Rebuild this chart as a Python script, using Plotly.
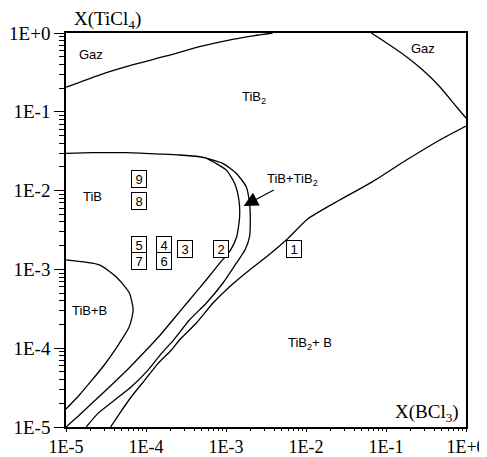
import numpy as np
import plotly.graph_objects as go

# ---- data (x = X(BCl3), y = X(TiCl4)) ----
gaz_left_x = [1e-5, 2.61e-5, 6.76e-5, 1.80e-4, 4.66e-4, 1.21e-3, 2.27e-3, 3.82e-3]
gaz_left_y = [0.205, 0.293, 0.393, 0.511, 0.670, 0.832, 0.929, 1.0]

gaz_right_x = [0.0656, 0.111, 0.180, 0.288, 0.470, 0.760, 1.0]
gaz_right_y = [1.0, 0.704, 0.500, 0.339, 0.208, 0.116, 0.0834]

# TiB domain boundary (inner branch of the nose)
tib_x = [1e-5, 2.13e-5, 5.64e-5, 1.47e-4, 2.62e-4, 4.66e-4, 5.65e-4, 7.18e-4, 1.01e-3,
         1.28e-3, 1.45e-3, 1.48e-3, 1.36e-3, 1.14e-3, 8.29e-4, 5.65e-4, 3.49e-4,
         2.16e-4, 1.47e-4, 9.55e-5, 5.97e-5, 3.48e-5, 2.26e-5, 1.47e-5, 1e-5]
tib_y = [2.97e-2, 3.03e-2, 3.03e-2, 2.91e-2, 2.83e-2, 2.69e-2, 2.59e-2, 2.27e-2, 1.82e-2,
         1.24e-2, 7.60e-3, 4.67e-3, 2.60e-3, 1.76e-3, 1.19e-3, 7.33e-4, 4.09e-4,
         2.28e-4, 1.43e-4, 8.95e-5, 5.45e-5, 3.22e-5, 2.14e-5, 1.42e-5, 1e-5]

# TiB + TiB2 outer branch
tib_tib2_x = [5.65e-4, 9.12e-4, 1.34e-3, 1.79e-3, 1.97e-3, 2.01e-3, 1.97e-3, 1.75e-3,
              1.34e-3, 9.12e-4, 5.65e-4, 3.49e-4, 2.14e-4, 1.56e-4, 1.06e-4, 6.56e-5,
              4.06e-5, 2.51e-5, 1.79e-5]
tib_tib2_y = [2.59e-2, 2.22e-2, 1.66e-2, 1.12e-2, 6.90e-3, 4.67e-3, 2.60e-3, 1.82e-3,
              1.19e-3, 6.67e-4, 3.72e-4, 2.28e-4, 1.22e-4, 8.61e-5, 5.28e-5, 3.24e-5,
              2.20e-5, 1.49e-5, 1e-5]

# TiB2 / TiB2 + B boundary
tib2_b_x = [3.61e-5, 4.69e-5, 6.56e-5, 9.64e-5, 1.42e-4, 2.08e-4, 2.62e-4, 4.24e-4,
            6.84e-4, 1.11e-3, 1.97e-3, 3.30e-3, 5.66e-3, 1.05e-2, 2.64e-2, 6.82e-2,
            0.180, 0.470, 1.0]
tib2_b_y = [1e-5, 1.49e-5, 2.42e-5, 3.94e-5, 6.43e-5, 9.48e-5, 1.27e-4, 2.07e-4,
            3.72e-4, 6.03e-4, 9.83e-4, 1.48e-3, 2.36e-3, 4.36e-3, 7.60e-3, 1.30e-2,
            2.44e-2, 4.39e-2, 6.61e-2]

# TiB + B domain
tib_b_x = [1e-5, 2.61e-5, 4.23e-5, 6.19e-5, 6.90e-5, 6.19e-5, 4.35e-5, 3.01e-5,
           2.07e-5, 1.47e-5, 1e-5]
tib_b_y = [1.32e-3, 1.14e-3, 8.07e-4, 5.02e-4, 3.05e-4, 1.88e-4, 1.04e-4, 6.12e-5,
           3.84e-5, 2.55e-5, 1.69e-5]

# experimental points (numbered boxes)
exp_labels = ["1", "2", "3", "4", "5", "6", "7", "8", "9"]
exp_x = [7.06e-3, 8.71e-4, 3.11e-4, 1.70e-4, 8.26e-5, 1.70e-4, 8.26e-5, 8.26e-5, 8.26e-5]
exp_y = [1.80e-3, 1.80e-3, 1.80e-3, 2.04e-3, 2.04e-3, 1.29e-3, 1.29e-3, 7.38e-3, 1.40e-2]

# domain labels
region_text = ["Gaz", "Gaz", "TiB<sub>2</sub>", "TiB", "TiB+B", "TiB<sub>2</sub>+ B"]
region_x = [2.06e-5, 0.288, 2.21e-3, 2.15e-5, 1.96e-5, 1.11e-2]
region_y = [0.526, 0.645, 0.154, 8.37e-3, 3.05e-4, 1.15e-4]

tick_vals = [1e-5, 1e-4, 1e-3, 1e-2, 1e-1, 1e0]
tick_text = ["1E-5", "1E-4", "1E-3", "1E-2", "1E-1", "1E+0"]
minor_vals = [m * d for d in tick_vals[:-1] for m in range(2, 10)]

SERIF = "Liberation Serif, Times New Roman, serif"
SANS = "Liberation Sans, Arial, sans-serif"

fig = go.Figure()
line = dict(color="black", width=1.3, shape="spline", smoothing=0.6)
for xs, ys in [(gaz_left_x, gaz_left_y), (gaz_right_x, gaz_right_y), (tib_x, tib_y),
               (tib_tib2_x, tib_tib2_y), (tib2_b_x, tib2_b_y), (tib_b_x, tib_b_y)]:
    fig.add_trace(go.Scatter(x=xs, y=ys, mode="lines", line=line, hoverinfo="skip"))

annotations = []
for t, x, y in zip(exp_labels, exp_x, exp_y):
    annotations.append(dict(x=np.log10(x), y=np.log10(y), text=t, showarrow=False,
                            font=dict(family=SANS, size=13, color="black"),
                            bordercolor="black", borderwidth=1, borderpad=1,
                            width=12, height=14, bgcolor="white"))
for t, x, y in zip(region_text, region_x, region_y):
    annotations.append(dict(x=np.log10(x), y=np.log10(y), text=t, showarrow=False,
                            font=dict(family=SANS, size=13, color="black")))
# arrow label
annotations.append(dict(x=np.log10(1.66e-3), y=np.log10(6.38e-3), text="TiB+TiB<sub>2</sub>",
                        showarrow=True, ax=49, ay=-26, arrowhead=2, arrowsize=2.4,
                        arrowwidth=1.2, arrowcolor="black", standoff=0,
                        font=dict(family=SANS, size=13, color="black")))
# axis titles
annotations.append(dict(xref="paper", yref="paper", x=0.1025, y=1.033,
                        xanchor="center", yanchor="middle", text="X(TiCl<sub>4</sub>)",
                        showarrow=False, font=dict(family=SERIF, size=19, color="black")))
annotations.append(dict(xref="paper", yref="paper", x=0.902, y=0.0355,
                        xanchor="center", yanchor="middle", text="X(BCl<sub>3</sub>)",
                        showarrow=False, font=dict(family=SERIF, size=19, color="black")))

axis_common = dict(type="log", range=[-5, 0], tickmode="array", tickvals=tick_vals,
                   ticktext=tick_text, showgrid=False, zeroline=False, showline=True,
                   mirror=True, linecolor="black", linewidth=1.5, ticks="outside",
                   tickcolor="black", tickwidth=1.2, automargin=False)

# page body adds an 8px offset; figure is sized so the plot area lands at
# x 66..466, y 33..427 of the browser window
fig.update_layout(
    width=479, height=449,
    margin=dict(l=58, r=21, t=25, b=30, autoexpand=False),
    plot_bgcolor="white", paper_bgcolor="white",
    showlegend=False, hovermode=False,
    xaxis=dict(axis_common, ticklen=3,
               tickfont=dict(family=SERIF, size=18, color="black"),
               minor=dict(tickmode="array", tickvals=minor_vals, ticks="outside",
                          ticklen=2, tickcolor="black", tickwidth=1, showgrid=False)),
    yaxis=dict(axis_common, ticklen=10,
               tickfont=dict(family=SERIF, size=19, color="black"),
               minor=dict(tickmode="array", tickvals=minor_vals, ticks="outside",
                          ticklen=5, tickcolor="black", tickwidth=1, showgrid=False)),
    annotations=annotations,
)

fig.write_html("out.html")
